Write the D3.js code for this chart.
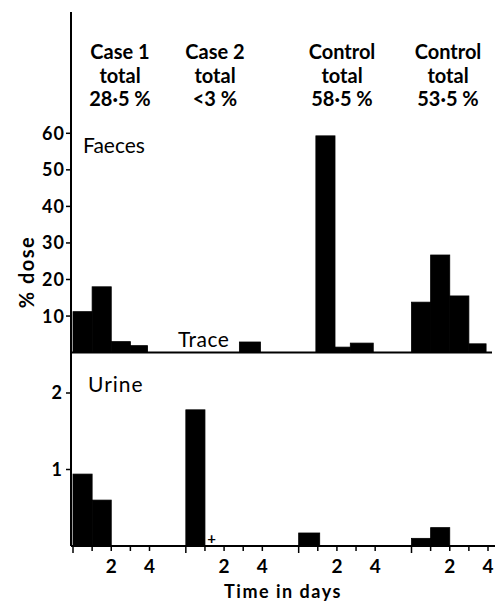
<!DOCTYPE html>
<html>
<head>
<meta charset="utf-8">
<script src="https://cdn.jsdelivr.net/npm/d3@7"></script>
<style>
  body { margin: 0; background: #fff; }
  text { font-family: Lato, "Open Sans", sans-serif; fill: #000; }
</style>
</head>
<body>
<div id="chart"></div>
<script>
// Excretion of dose: faeces (top) and urine (bottom), four subjects, per day

const groupNames = ["Case 1", "Case 2", "Control", "Control"];
const groupTotals = ["28·5 %", "<3 %", "58·5 %", "53·5 %"];
const groupOffset = [0, 5.9, 11.8, 17.7]; // days along the shared axis

const faecesGroup = [0, 0, 0, 0, 1, 2, 2, 2, 3, 3, 3, 3];
const faecesFrom  = [0, 1, 2, 3, 2.8, 0.9, 1.9, 2.7, 0, 1, 2, 3];
const faecesTo    = [1, 2, 3, 3.9, 3.9, 1.9, 2.7, 3.9, 1, 2, 3, 3.9];
const faecesValue = [11.2, 18, 3, 1.9, 2.9, 59.3, 1.5, 2.6, 13.8, 26.7, 15.5, 2.4];

const urineGroup = [0, 0, 1, 2, 3, 3];
const urineFrom  = [0, 1, 0, 0, 0, 1];
const urineTo    = [1, 2, 1, 1.1, 1, 2];
const urineValue = [0.94, 0.6, 1.78, 0.17, 0.1, 0.24];

const faecesTicks = [10, 20, 30, 40, 50, 60];
const urineTicks = [1, 2];
const dayTicks = [0, 1, 2, 3, 4];
const dayLabels = [2, 4];

const width = 495, height = 603;
const axisX = 71;

const svg = d3.select("#chart").append("svg")
    .attr("width", width)
    .attr("height", height);

const x = d3.scaleLinear().domain([0, 21.7]).range([73, 488]);
const yF = d3.scaleLinear().domain([0, 60]).range([352.6, 133.3]);
const yU = d3.scaleLinear().domain([0, 2]).range([546, 393]);

const faeces = faecesValue.map((v, i) => ({
    x0: groupOffset[faecesGroup[i]] + faecesFrom[i],
    x1: groupOffset[faecesGroup[i]] + faecesTo[i],
    v
}));
const urine = urineValue.map((v, i) => ({
    x0: groupOffset[urineGroup[i]] + urineFrom[i],
    x1: groupOffset[urineGroup[i]] + urineTo[i],
    v
}));

// bars (thin black stroke closes the hairline between neighbours)
svg.selectAll("rect.f")
    .data(faeces)
    .enter().append("rect")
    .attr("class", "f")
    .attr("x", d => x(d.x0))
    .attr("width", d => x(d.x1) - x(d.x0))
    .attr("y", d => yF(d.v))
    .attr("height", d => yF(0) - yF(d.v))
    .attr("fill", "#000")
    .attr("stroke", "#000")
    .attr("stroke-width", 0.8);

svg.selectAll("rect.u")
    .data(urine)
    .enter().append("rect")
    .attr("class", "u")
    .attr("x", d => x(d.x0))
    .attr("width", d => x(d.x1) - x(d.x0))
    .attr("y", d => yU(d.v))
    .attr("height", d => yU(0) - yU(d.v))
    .attr("fill", "#000")
    .attr("stroke", "#000")
    .attr("stroke-width", 0.8);

// baselines
svg.append("line")
    .attr("x1", axisX).attr("x2", 492)
    .attr("y1", yF(0)).attr("y2", yF(0))
    .attr("stroke", "#000").attr("stroke-width", 2);
svg.append("line")
    .attr("x1", axisX).attr("x2", 495)
    .attr("y1", yU(0)).attr("y2", yU(0))
    .attr("stroke", "#000").attr("stroke-width", 2);

// vertical axis
svg.append("line")
    .attr("x1", axisX).attr("x2", axisX)
    .attr("y1", 12).attr("y2", yU(0))
    .attr("stroke", "#000").attr("stroke-width", 2);

const tickFont = "18px";

const fTicks = svg.append("g");
fTicks.selectAll("line")
    .data(faecesTicks)
    .enter().append("line")
    .attr("x1", axisX - 5).attr("x2", axisX)
    .attr("y1", d => yF(d)).attr("y2", d => yF(d))
    .attr("stroke", "#000").attr("stroke-width", 1.5);
fTicks.selectAll("text")
    .data(faecesTicks)
    .enter().append("text")
    .attr("x", axisX - 6)
    .attr("y", d => yF(d))
    .attr("dy", "0.36em")
    .attr("text-anchor", "end")
    .attr("font-size", tickFont)
    .attr("font-weight", "bold")
    .attr("letter-spacing", "1px")
    .text(d => d);

const uTicks = svg.append("g");
uTicks.selectAll("line")
    .data(urineTicks)
    .enter().append("line")
    .attr("x1", axisX - 5).attr("x2", axisX)
    .attr("y1", d => yU(d)).attr("y2", d => yU(d))
    .attr("stroke", "#000").attr("stroke-width", 1.5);
uTicks.selectAll("text")
    .data(urineTicks)
    .enter().append("text")
    .attr("x", axisX - 9)
    .attr("y", d => yU(d))
    .attr("dy", "0.36em")
    .attr("text-anchor", "end")
    .attr("font-size", tickFont)
    .attr("font-weight", "bold")
    .text(d => d);

// day ticks per group
groupOffset.forEach((off, g) => {
    const gx = svg.append("g");
    gx.selectAll("line")
        .data(dayTicks)
        .enter().append("line")
        .attr("x1", d => x(off + d)).attr("x2", d => x(off + d))
        .attr("y1", yU(0)).attr("y2", d => yU(0) + (d === 0 ? 7 : 5))
        .attr("stroke", "#000").attr("stroke-width", 1.5);
    gx.selectAll("text")
        .data(dayLabels)
        .enter().append("text")
        .attr("x", d => x(off + d))
        .attr("y", 573)
        .attr("text-anchor", "middle")
        .attr("font-size", "19px")
        .attr("font-weight", "bold")
        .text(d => d);
});

// group headers
const headerX = [120, 215, 342, 448];
groupNames.forEach((name, i) => {
    const t = svg.append("text")
        .attr("text-anchor", "middle")
        .attr("font-size", "20px")
        .attr("font-weight", "bold");
    [name, "total", groupTotals[i]].forEach((line, j) => {
        t.append("tspan")
            .attr("x", headerX[i])
            .attr("y", 59 + j * 23.5)
            .text(line);
    });
});

// panel labels
svg.append("text")
    .attr("x", 83).attr("y", 153)
    .attr("font-size", "21px")
    .text("Faeces");
svg.append("text")
    .attr("x", 88).attr("y", 392)
    .attr("font-size", "21px")
    .attr("letter-spacing", "1px")
    .text("Urine");
svg.append("text")
    .attr("x", 178).attr("y", 347)
    .attr("font-size", "21px")
    .attr("letter-spacing", "0.5px")
    .text("Trace");
svg.append("text")
    .attr("x", x(groupOffset[1] + 1.35)).attr("y", 544)
    .attr("text-anchor", "middle")
    .attr("font-size", "15px")
    .attr("font-weight", "bold")
    .text("+");

// axis titles
svg.append("text")
    .attr("transform", "translate(34,272) rotate(-90)")
    .attr("text-anchor", "middle")
    .attr("font-size", "20px")
    .attr("font-weight", "bold")
    .attr("letter-spacing", "1.5px")
    .text("% dose");
svg.append("text")
    .attr("x", 283).attr("y", 598)
    .attr("text-anchor", "middle")
    .attr("font-size", "18px")
    .attr("font-weight", "bold")
    .attr("letter-spacing", "1.5px")
    .text("Time in days");
</script>
</body>
</html>
